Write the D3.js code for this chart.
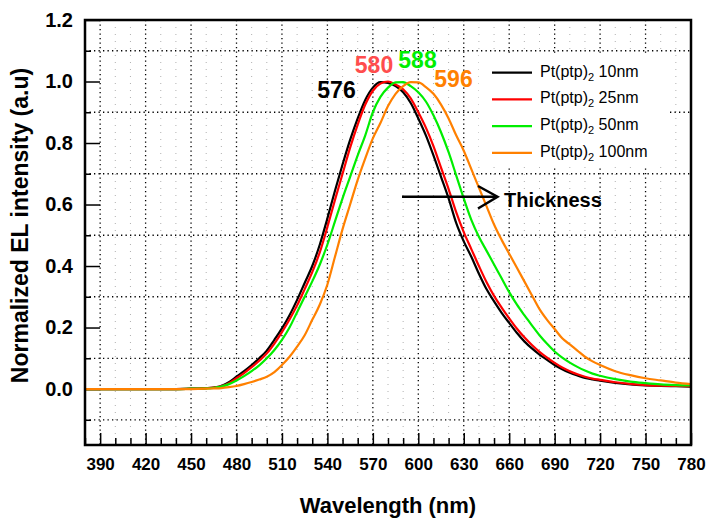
<!DOCTYPE html>
<html>
<head>
<meta charset="utf-8">
<script src="https://cdn.jsdelivr.net/npm/d3@7/dist/d3.min.js"></script>
<style>
  html, body { margin: 0; padding: 0; background: #fff; }
  svg { display: block; font-family: "Liberation Sans", Arial, sans-serif; }
</style>
</head>
<body>
<svg id="chart" width="706" height="518"></svg>
<script>
// ---------- data ----------
const wavelengths = [380,390,400,410,420,430,440,450,
  460,465,470,475,480,485,490,495,500,505,
  510,515,520,525,530,535,540,545,550,555,
  560,565,570,575,580,585,590,595,600,605,
  610,615,620,625,630,635,640,645,650,655,
  660,665,670,675,680,685,690,695,700,705,
  710,715,720,730,740,750,760,770,780];

const series10nm = [0,0,0,0,0,0,0,0.001,
  0.003,0.005,0.010,0.022,0.040,0.058,0.078,0.100,0.125,0.160,
  0.197,0.240,0.290,0.345,0.400,0.470,0.555,0.645,0.730,0.810,
  0.880,0.940,0.980,0.998,0.995,0.985,0.965,0.930,0.880,0.825,
  0.760,0.690,0.620,0.540,0.480,0.430,0.375,0.325,0.285,0.248,
  0.215,0.183,0.155,0.132,0.112,0.095,0.078,0.064,0.053,0.044,
  0.036,0.031,0.027,0.020,0.015,0.012,0.010,0.009,0.008];

const series25nm = [0,0,0,0,0,0,0,0.001,
  0.003,0.005,0.009,0.019,0.035,0.052,0.071,0.092,0.116,0.148,
  0.185,0.226,0.272,0.325,0.380,0.445,0.527,0.615,0.700,0.785,
  0.860,0.925,0.970,0.993,1.000,0.990,0.975,0.945,0.900,0.850,
  0.790,0.720,0.650,0.575,0.510,0.455,0.400,0.348,0.303,0.265,
  0.230,0.197,0.168,0.143,0.121,0.102,0.085,0.070,0.058,0.048,
  0.040,0.034,0.030,0.022,0.017,0.013,0.011,0.010,0.009];

const series50nm = [0,0,0,0,0,0,0,0.001,
  0.002,0.004,0.008,0.016,0.028,0.042,0.058,0.077,0.100,0.127,
  0.160,0.200,0.250,0.300,0.350,0.405,0.470,0.545,0.620,0.690,
  0.760,0.825,0.900,0.950,0.980,0.997,0.998,0.985,0.965,0.935,
  0.890,0.835,0.770,0.695,0.620,0.550,0.495,0.450,0.405,0.360,
  0.315,0.275,0.240,0.207,0.175,0.147,0.122,0.102,0.086,0.072,
  0.060,0.050,0.043,0.032,0.024,0.019,0.015,0.013,0.012];

const series100nm = [0,0,0,0,0,0,0,0,
  0.001,0.002,0.003,0.006,0.010,0.016,0.023,0.031,0.040,0.055,
  0.078,0.105,0.138,0.175,0.225,0.275,0.340,0.430,0.520,0.600,
  0.680,0.750,0.815,0.865,0.920,0.960,0.985,0.998,0.997,0.982,
  0.960,0.925,0.880,0.825,0.775,0.715,0.655,0.595,0.535,0.485,
  0.440,0.395,0.350,0.305,0.260,0.225,0.195,0.165,0.145,0.125,
  0.105,0.090,0.078,0.058,0.045,0.035,0.028,0.021,0.016];

const seriesNames = ["10nm", "25nm", "50nm", "100nm"];
const seriesValues = [series10nm, series25nm, series50nm, series100nm];
const seriesColors = ["#000000", "#ff0000", "#00ee00", "#ff8000"];

const peakLabels = ["576", "580", "588", "596"];
const peakLabelColors = ["#000000", "#ff4d4d", "#00ee00", "#ff8000"];

const xTickValues = [390,420,450,480,510,540,570,600,630,660,690,720,750,780];
const xMinorValues = d3.range(380, 781, 10);
const yTickValues = [0.0,0.2,0.4,0.6,0.8,1.0,1.2];
const yGridValues = [-0.1,0.1,0.3,0.5,0.7,0.9,1.1];

// ---------- layout ----------
const L = 85, R = 691, T = 20, B = 445;
const svg = d3.select("#chart");
const x = d3.scaleLinear().domain([380, 780]).range([L, R]);
const y = d3.scaleLinear().domain([-0.182, 1.2]).range([B, T]);

// minor vertical grid (gray dotted)
svg.append("g").selectAll("line")
  .data(xMinorValues.filter(v => !xTickValues.includes(v) && v > 380 && v < 780))
  .join("line")
  .attr("x1", d => x(d)).attr("x2", d => x(d))
  .attr("y1", T).attr("y2", B)
  .attr("stroke", "#b0b0b0").attr("stroke-width", 1)
  .attr("stroke-dasharray", "1,6");

// major vertical grid (black dotted)
svg.append("g").selectAll("line")
  .data(xTickValues.filter(v => v < 780))
  .join("line")
  .attr("x1", d => x(d)).attr("x2", d => x(d))
  .attr("y1", T).attr("y2", B)
  .attr("stroke", "#000").attr("stroke-width", 1.3)
  .attr("stroke-dasharray", "1.3,3.2");

// horizontal grid (black dotted)
svg.append("g").selectAll("line")
  .data(yGridValues)
  .join("line")
  .attr("x1", L).attr("x2", R)
  .attr("y1", d => y(d)).attr("y2", d => y(d))
  .attr("stroke", "#000").attr("stroke-width", 1.3)
  .attr("stroke-dasharray", "1.3,3.2");

// legend background (hides grid)
svg.append("rect").attr("x", 479).attr("y", 53).attr("width", 188).attr("height", 113)
  .attr("fill", "#fff");

// axes
const tickFont = "bold 17px 'Liberation Sans', Arial, sans-serif";
const xAxis = svg.append("g").attr("transform", `translate(0,${B})`)
  .call(d3.axisBottom(x).tickValues(xTickValues).tickSizeInner(-12).tickSizeOuter(0)
        .tickPadding(13).tickFormat(d3.format("d")));
xAxis.select(".domain").remove();
xAxis.selectAll("line").attr("stroke", "#000").attr("stroke-width", 1.5);
xAxis.selectAll("text").style("font", tickFont).attr("fill", "#000");

const xMinor = svg.append("g").attr("transform", `translate(0,${B})`)
  .call(d3.axisBottom(x).tickValues(xMinorValues.filter(v => !xTickValues.includes(v)))
        .tickSizeInner(-7).tickSizeOuter(0).tickFormat(""));
xMinor.select(".domain").remove();
xMinor.selectAll("line").attr("stroke", "#000").attr("stroke-width", 1.5);

const yAxis = svg.append("g").attr("transform", `translate(${L},0)`)
  .call(d3.axisLeft(y).tickValues(yTickValues).tickSizeInner(-15).tickSizeOuter(0)
        .tickPadding(12).tickFormat(d3.format(".1f")));
yAxis.select(".domain").remove();
yAxis.selectAll("line").attr("stroke", "#000").attr("stroke-width", 1.5);
yAxis.selectAll("text").style("font", "bold 20px 'Liberation Sans', Arial, sans-serif").attr("fill", "#000");

const yMinor = svg.append("g").attr("transform", `translate(${L},0)`)
  .call(d3.axisLeft(y).tickValues(yGridValues).tickSizeInner(-6).tickSizeOuter(0).tickFormat(""));
yMinor.select(".domain").remove();
yMinor.selectAll("line").attr("stroke", "#000").attr("stroke-width", 1.5);

// curves
const line = d3.line()
  .x((d, i) => x(wavelengths[i]))
  .y(d => y(d))
  .curve(d3.curveMonotoneX);

svg.append("clipPath").attr("id", "plotclip")
  .append("rect").attr("x", L).attr("y", T).attr("width", R - L).attr("height", B - T);

svg.append("g").attr("clip-path", "url(#plotclip)")
  .selectAll("path")
  .data(seriesValues)
  .join("path")
  .attr("d", d => line(d))
  .attr("fill", "none")
  .attr("stroke", (d, i) => seriesColors[i])
  .attr("stroke-width", 2.2)
  .attr("stroke-linejoin", "round");

// frame
svg.append("rect").attr("x", L).attr("y", T).attr("width", R - L).attr("height", B - T)
  .attr("fill", "none").attr("stroke", "#000").attr("stroke-width", 2.5);

// peak labels
const peakPos = [[336.5, 97.5], [374, 73.3], [417.5, 68.3], [453.5, 86.7]];
svg.append("g").selectAll("text")
  .data(peakLabels)
  .join("text")
  .attr("x", (d, i) => peakPos[i][0])
  .attr("y", (d, i) => peakPos[i][1])
  .attr("text-anchor", "middle")
  .style("font", "bold 23px 'Liberation Sans', Arial, sans-serif")
  .attr("fill", (d, i) => peakLabelColors[i])
  .text(d => d);

// legend
const legend = svg.append("g");
seriesNames.forEach((name, i) => {
  const ly = 72.7 + i * 26.7;
  legend.append("line").attr("x1", 492).attr("x2", 532).attr("y1", ly).attr("y2", ly)
    .attr("stroke", seriesColors[i]).attr("stroke-width", 2.2);
  const t = legend.append("text").attr("x", 540).attr("y", ly + 4)
    .style("font", "16px 'Liberation Sans', Arial, sans-serif").attr("fill", "#000");
  t.append("tspan").text("Pt(ptp)");
  t.append("tspan").attr("dy", 4).style("font-size", "11px").text("2");
  t.append("tspan").attr("dy", -4).text(" " + name);
});

// thickness arrow
svg.append("line").attr("x1", 402).attr("x2", 497).attr("y1", 196.7).attr("y2", 196.7)
  .attr("stroke", "#000").attr("stroke-width", 2.5);
svg.append("path").attr("d", "M478,186 L497.5,196.7 L478,208.5")
  .attr("fill", "none").attr("stroke", "#000").attr("stroke-width", 2.5);
svg.append("text").attr("x", 504).attr("y", 206.7)
  .style("font", "bold 20px 'Liberation Sans', Arial, sans-serif").attr("fill", "#000")
  .text("Thickness");

// axis titles
svg.append("text").attr("x", 388).attr("y", 513)
  .attr("text-anchor", "middle")
  .style("font", "bold 22px 'Liberation Sans', Arial, sans-serif").attr("fill", "#000")
  .text("Wavelength (nm)");
svg.append("text")
  .attr("transform", "translate(28,225.5) rotate(-90)")
  .attr("text-anchor", "middle")
  .style("font", "bold 23px 'Liberation Sans', Arial, sans-serif").attr("fill", "#000")
  .text("Normalized EL intensity (a.u)");
</script>
</body>
</html>
